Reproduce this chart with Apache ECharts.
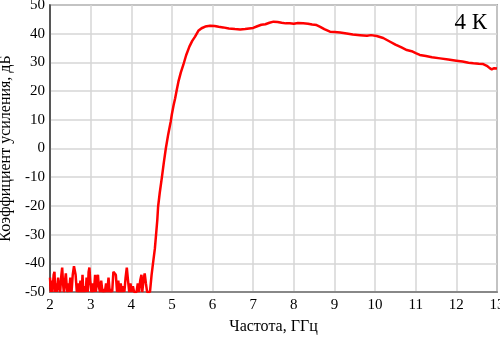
<!DOCTYPE html>
<html>
<head>
<meta charset="utf-8">
<script src="https://cdn.jsdelivr.net/npm/echarts@6/dist/echarts.min.js"></script>
<style>
  html, body { margin: 0; padding: 0; background: #fff; }
  #main { width: 500px; height: 338px; }
</style>
</head>
<body>
<div id="main"></div>
<script>
// частота, ГГц
var freq = [
  2.00, 2.02, 2.04, 2.06, 2.09, 2.11, 2.13, 2.15, 2.17, 2.20, 2.22, 2.25, 2.28, 2.30, 2.32, 2.34,
  2.37, 2.39, 2.42, 2.45, 2.47, 2.50, 2.53, 2.56, 2.59, 2.61, 2.63, 2.66, 2.69, 2.72, 2.75, 2.78,
  2.80, 2.82, 2.85, 2.88, 2.90, 2.93, 2.95, 2.97, 2.99, 3.02, 3.05, 3.08, 3.11, 3.13, 3.16, 3.18,
  3.20, 3.23, 3.26, 3.29, 3.32, 3.35, 3.38, 3.41, 3.44, 3.47, 3.50, 3.53, 3.56, 3.59, 3.62, 3.65,
  3.68, 3.71, 3.74, 3.77, 3.80, 3.83, 3.86, 3.89, 3.92, 3.95, 3.98, 4.01, 4.04, 4.07, 4.10, 4.13,
  4.16, 4.19, 4.22, 4.25, 4.27, 4.30, 4.33, 4.36, 4.39, 4.42, 4.46,
  4.50, 4.54, 4.58, 4.61, 4.64, 4.66, 4.70, 4.75, 4.80, 4.85, 4.91, 4.97, 5.00, 5.04, 5.08, 5.12,
  5.16, 5.22, 5.28, 5.35, 5.43, 5.50, 5.57, 5.65, 5.73, 5.82, 5.94, 6.05, 6.15, 6.26, 6.40, 6.55,
  6.68, 6.80, 6.90, 7.00, 7.10, 7.20, 7.30, 7.40, 7.50, 7.60, 7.70, 7.80, 7.90, 8.00, 8.10, 8.23,
  8.35, 8.45, 8.56, 8.65, 8.75, 8.89, 9.00, 9.14, 9.30, 9.45, 9.63, 9.80, 9.90, 10.04, 10.20, 10.37,
  10.50, 10.65, 10.78, 10.90, 11.00, 11.10, 11.25, 11.40, 11.60, 11.80, 12.00, 12.15, 12.30, 12.42,
  12.55, 12.66, 12.75, 12.82, 12.87, 12.93, 13.00
];
// коэффициент усиления, дБ
var gain = [
  -45, -50, -46, -50, -44, -43, -50, -47, -50, -45, -48, -50, -44, -41.5, -47, -50,
  -46, -43.5, -50, -47, -50, -45, -50, -44, -41, -40.5, -44, -50, -47, -50, -46, -50,
  -44, -50, -48, -50, -45, -50, -43, -41.5, -46, -50, -47, -50, -44, -50, -45, -44,
  -48, -50, -46, -50, -49, -50, -47, -50, -45, -50, -49, -50, -43, -42.5, -44, -50,
  -46, -50, -47, -50, -48, -50, -45, -41.5, -46, -50, -47, -50, -48, -50, -50, -50,
  -47, -50, -46, -44, -50, -46, -43.5, -47, -50, -50, -50,
  -44, -39.4, -35, -30, -25, -20.3, -15.5, -10.4, -5, 0, 5, 9.3, 12, 15, 17.5, 20.5,
  23.3, 26.5, 29.1, 32.5, 35.5, 37.5, 39, 41, 41.9, 42.5, 42.8, 42.7, 42.4, 42.2, 41.8, 41.6,
  41.5, 41.6, 41.8, 42, 42.6, 43.1, 43.3, 43.8, 44.2, 44.1, 43.8, 43.6, 43.6, 43.5, 43.7, 43.6,
  43.5, 43.2, 43, 42.4, 41.6, 40.7, 40.6, 40.4, 40.1, 39.7, 39.5, 39.3, 39.5, 39.2, 38.5, 37.2,
  36.2, 35.2, 34.3, 33.9, 33.2, 32.6, 32.2, 31.8, 31.4, 31.0, 30.6, 30.3, 29.9, 29.7,
  29.5, 29.4, 28.8, 28.0, 27.6, 28.0, 27.9
];
var xTicks = [2, 3, 4, 5, 6, 7, 8, 9, 10, 11, 12, 13];
var yTicks = [-50, -40, -30, -20, -10, 0, 10, 20, 30, 40, 50];

var myChart = echarts.init(document.getElementById("main"));
var font = "Liberation Serif";
var option = {
  animation: false,
  title: {
    text: "4 К",
    right: 8,
    top: 6,
    textStyle: { fontFamily: font, fontSize: 23, fontWeight: "normal", color: "#000" }
  },
  grid: {
    left: 50, right: 3, top: 5, bottom: 46,
    outerBoundsMode: "none",
    containLabel: false,
    show: true, borderColor: "#666", borderWidth: 1.5
  },
  xAxis: {
    type: "value",
    min: xTicks[0],
    max: xTicks[xTicks.length - 1],
    interval: 1,
    name: "Частота, ГГц",
    nameLocation: "middle",
    nameGap: 27,
    nameTextStyle: { fontFamily: font, fontSize: 16, color: "#000" },
    axisLine: { onZero: false, lineStyle: { color: "#888", width: 2 } },
    axisTick: { show: false },
    axisLabel: { fontFamily: font, fontSize: 15, color: "#000", margin: 6 },
    splitLine: { lineStyle: { color: "#d6d6d6", width: 1.5 } }
  },
  yAxis: {
    type: "value",
    min: yTicks[0],
    max: yTicks[yTicks.length - 1],
    interval: 10,
    name: "Коэффициент усиления, дБ",
    nameLocation: "middle",
    nameGap: 30,
    nameTextStyle: { fontFamily: font, fontSize: 16, color: "#000" },
    axisLine: { show: true, onZero: false, lineStyle: { color: "#333", width: 1.5 } },
    axisTick: { show: false },
    axisLabel: { fontFamily: font, fontSize: 15, color: "#000", margin: 5 },
    splitLine: { lineStyle: { color: "#d6d6d6", width: 1.5 } }
  },
  series: [{
    type: "line",
    data: freq.map(function (f, i) { return [f, gain[i]]; }),
    showSymbol: false,
    lineStyle: { color: "#ff0000", width: 2.5 },
    clip: true
  }]
};
myChart.setOption(option);
</script>
</body>
</html>
